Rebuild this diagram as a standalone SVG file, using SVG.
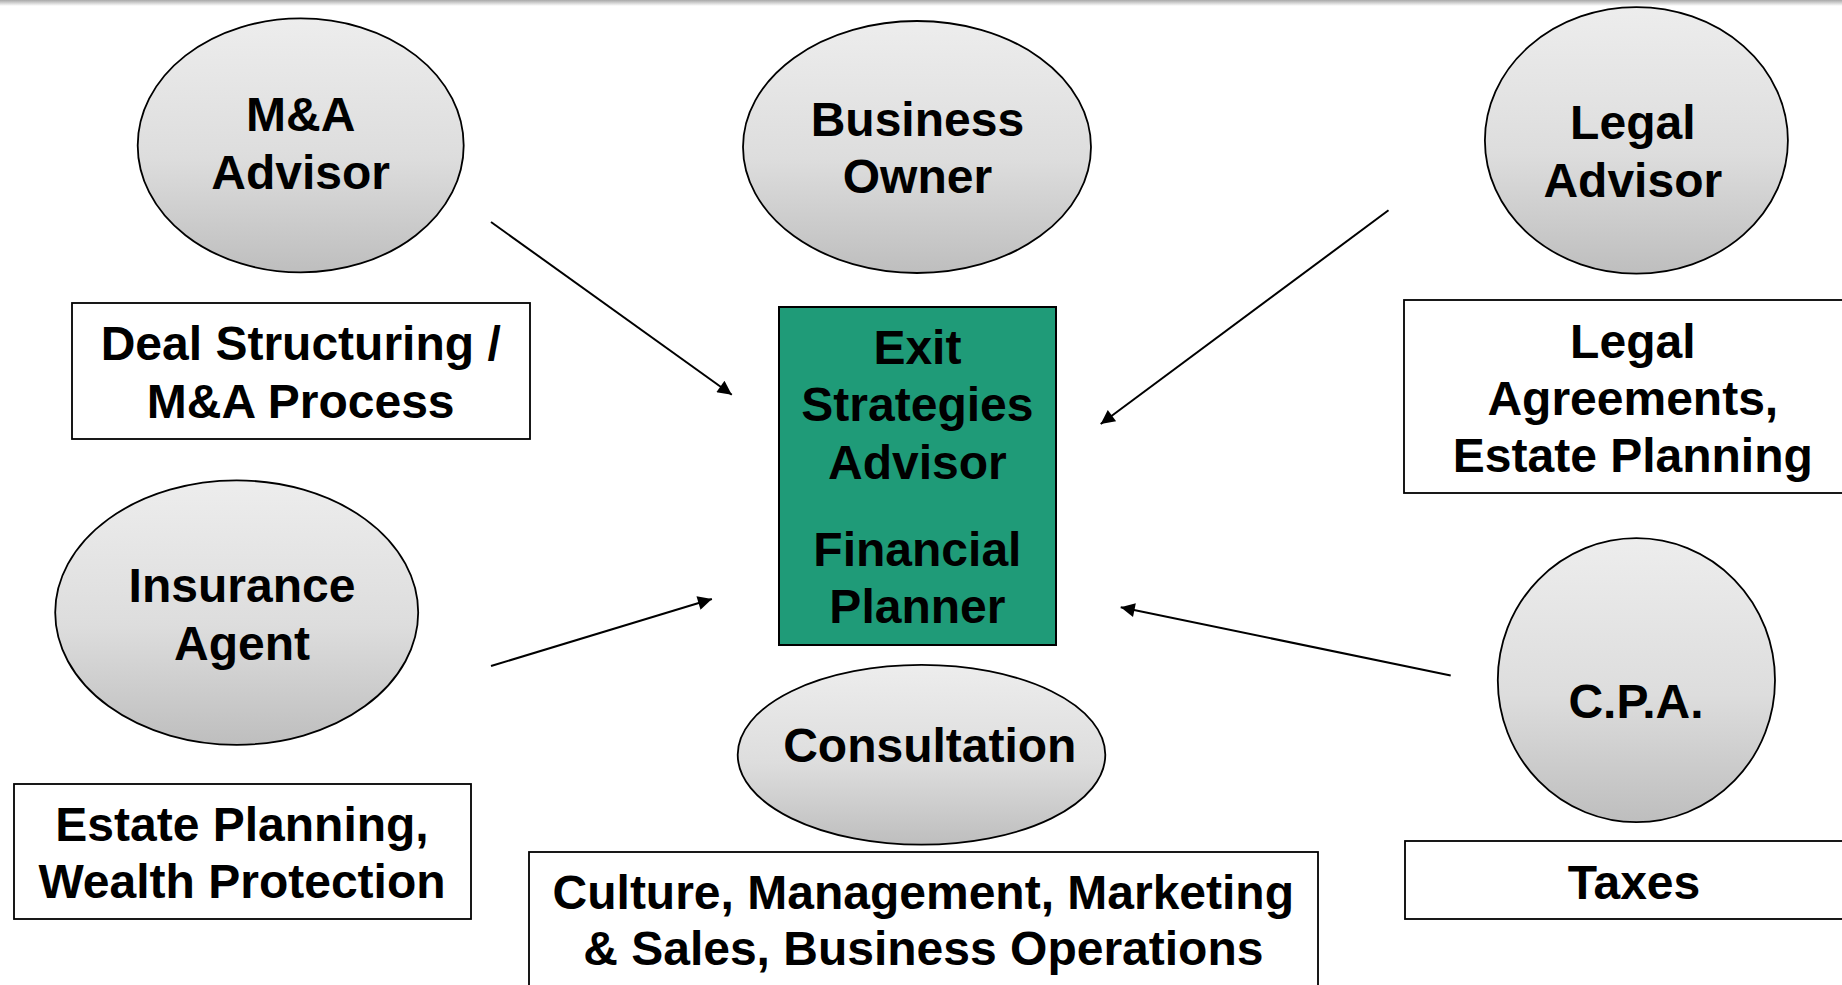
<svg xmlns="http://www.w3.org/2000/svg" width="1842" height="985" viewBox="0 0 1842 985">
<defs>
<linearGradient id="g" x1="0" y1="0" x2="0" y2="1">
<stop offset="0" stop-color="#EDEDED"/>
<stop offset="0.55" stop-color="#DDDDDD"/>
<stop offset="1" stop-color="#BEBEBE"/>
</linearGradient>
<linearGradient id="top" x1="0" y1="0" x2="0" y2="1">
<stop offset="0" stop-color="#A8A8A8"/>
<stop offset="1" stop-color="#FFFFFF"/>
</linearGradient>
<marker id="ah" viewBox="0 0 10 10" refX="10" refY="5" markerWidth="9" markerHeight="7" markerUnits="strokeWidth" orient="auto">
<path d="M0,0 L10,5 L0,10 z" fill="#000"/>
</marker>
</defs>
<style>
.ov{fill:url(#g);stroke:#000;stroke-width:1.8}
.bx{fill:#fff;stroke:#000;stroke-width:1.8}
.gr{fill:#1F9B78;stroke:#000;stroke-width:2}
text{font-family:"Liberation Sans",Arial,sans-serif;font-weight:bold;font-size:48px;text-anchor:middle;fill:#000}
.cn line{stroke:#000;stroke-width:2;marker-end:url(#ah)}
</style>
<rect x="0" y="0" width="1842" height="985" fill="#fff"/>
<rect x="0" y="0" width="1842" height="6" fill="url(#top)"/>

<g id="ma-advisor">
<ellipse class="ov" cx="300.7" cy="145.4" rx="163" ry="127"/>
<text x="300.7" y="131">M&amp;A</text>
<text x="300.7" y="188.5">Advisor</text>
</g>
<g id="business-owner">
<ellipse class="ov" cx="917" cy="147" rx="174" ry="126"/>
<text x="917.4" y="135.6">Business</text>
<text x="917.4" y="193">Owner</text>
</g>
<g id="legal-advisor">
<ellipse class="ov" cx="1636.4" cy="140.4" rx="151.5" ry="133.3"/>
<text x="1632.8" y="139">Legal</text>
<text x="1632.8" y="197">Advisor</text>
</g>
<g id="deal-structuring">
<rect class="bx" x="72" y="303" width="458" height="136"/>
<text x="300.7" y="360">Deal Structuring /</text>
<text x="300.7" y="417.6">M&amp;A Process</text>
</g>
<g id="exit-strategies">
<rect class="gr" x="779" y="307" width="277" height="338"/>
<text x="917.4" y="363.5">Exit</text>
<text x="917.4" y="421">Strategies</text>
<text x="917.4" y="478.6">Advisor</text>
<text x="917.4" y="565.6">Financial</text>
<text x="917.4" y="623">Planner</text>
</g>
<g id="legal-agreements">
<rect class="bx" x="1404" y="300" width="460" height="193"/>
<text x="1632.8" y="357.7">Legal</text>
<text x="1632.8" y="415">Agreements,</text>
<text x="1632.8" y="471.6">Estate Planning</text>
</g>
<g id="insurance-agent">
<ellipse class="ov" cx="236.7" cy="612.6" rx="181.5" ry="132.2"/>
<text x="242" y="602">Insurance</text>
<text x="242" y="659.6">Agent</text>
</g>
<g id="estate-planning">
<rect class="bx" x="14" y="784" width="457" height="135"/>
<text x="242" y="840.5">Estate Planning,</text>
<text x="242" y="898">Wealth Protection</text>
</g>
<g id="cpa">
<ellipse class="ov" cx="1636.4" cy="680.2" rx="138.6" ry="142"/>
<text x="1636" y="718">C.P.A.</text>
</g>
<g id="taxes">
<rect class="bx" x="1405" y="841" width="460" height="78"/>
<text x="1634" y="899">Taxes</text>
</g>
<g id="consultation">
<ellipse class="ov" cx="921.5" cy="754.8" rx="183.8" ry="89.9"/>
<text x="929.8" y="761.8">Consultation</text>
</g>
<g id="culture">
<rect class="bx" x="529" y="852" width="789" height="160"/>
<text x="923.3" y="908.6">Culture, Management, Marketing</text>
<text x="923.3" y="965">&amp; Sales, Business Operations</text>
</g>

<g id="connectors" class="cn">
<line x1="491" y1="222" x2="731.8" y2="394.7"/>
<line x1="1388.5" y1="210.3" x2="1100.7" y2="424"/>
<line x1="491" y1="666" x2="711.9" y2="599"/>
<line x1="1450.7" y1="675.4" x2="1120.7" y2="607.3"/>
</g>
</svg>
